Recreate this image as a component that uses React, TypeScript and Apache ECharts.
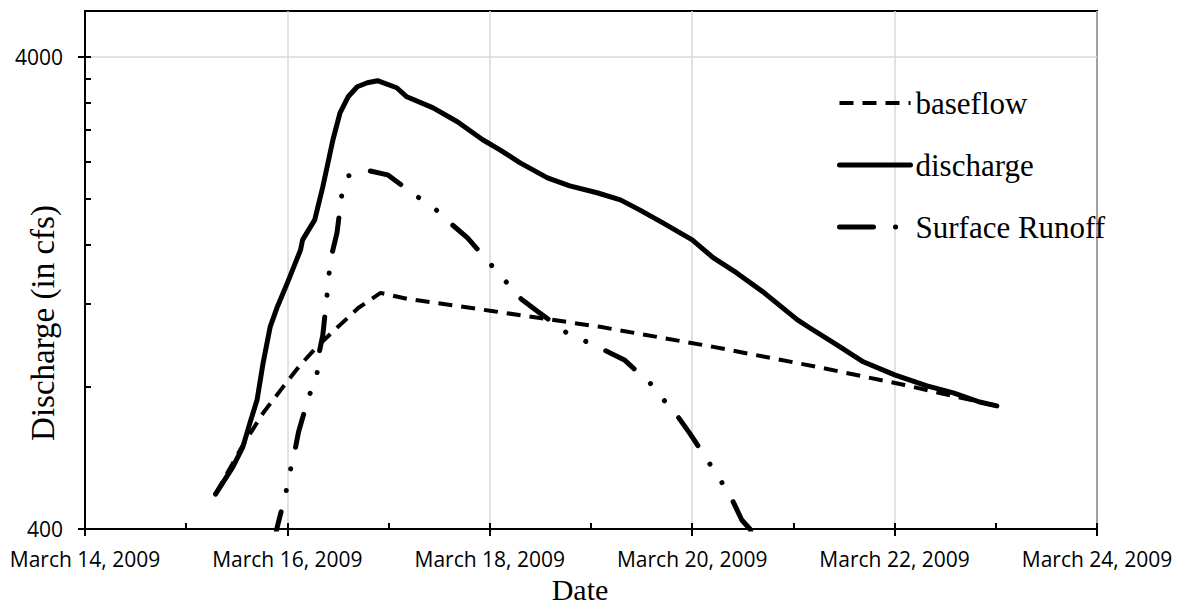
import React, { useEffect, useRef } from 'react';
import * as echarts from 'echarts';

// X in days of March 2009, Y in cfs
const xLabelDays = [14, 16, 18, 20, 22, 24];
const yLabelValues = [400, 4000];
const yMinorTickValues = [400, 800, 1200, 1600, 2000, 2400, 2800, 3200, 3600, 4000];

const seriesNames = ['baseflow', 'discharge', 'Surface Runoff'];

const baseflowDays = [15.29, 15.55, 15.76, 15.95, 16.11, 16.29, 16.49, 16.7, 16.92, 17.19, 18.02, 19.09, 20.21, 21.29, 22.1, 23.01];
const baseflowValues = [474, 597, 704, 796, 881, 972, 1067, 1175, 1265, 1228, 1158, 1072, 972, 877, 807, 729];

const dischargeDays = [15.29, 15.46, 15.56, 15.63, 15.7, 15.76, 15.83, 15.9, 16.0, 16.13, 16.15, 16.27, 16.35, 16.45, 16.52, 16.6, 16.69, 16.79, 16.89, 17.08, 17.18, 17.44, 17.68, 17.93, 18.1, 18.3, 18.57, 18.79, 19.06, 19.29, 19.48, 19.71, 20.0, 20.21, 20.44, 20.7, 21.04, 21.16, 21.43, 21.69, 22.0, 22.32, 22.58, 22.84, 23.01];
const dischargeValues = [474, 541, 597, 671, 750, 899, 1072, 1181, 1328, 1560, 1638, 1806, 2122, 2669, 3044, 3291, 3456, 3524, 3559, 3439, 3291, 3118, 2914, 2669, 2541, 2385, 2216, 2132, 2061, 1991, 1896, 1780, 1638, 1500, 1394, 1271, 1109, 1067, 982, 904, 848, 804, 777, 743, 729];

const runoffDays = [15.86, 15.9, 15.98, 16.02, 16.07, 16.11, 16.21, 16.29, 16.31, 16.35, 16.39, 16.41, 16.44, 16.49, 16.54, 16.6, 16.81, 16.99, 17.3, 17.47, 17.63, 17.78, 18.03, 18.17, 18.31, 18.48, 18.76, 18.96, 19.15, 19.33, 19.59, 19.72, 19.86, 19.98, 20.18, 20.29, 20.4, 20.49, 20.57, 20.62];
const runoffValues = [370, 404, 472, 523, 580, 642, 762, 840, 935, 1030, 1240, 1381, 1530, 1695, 2061, 2238, 2294, 2249, 2011, 1896, 1762, 1654, 1436, 1328, 1228, 1153, 1041, 996, 953, 912, 812, 750, 691, 636, 547, 503, 459, 418, 400, 379];

const SANS = '"Open Sans", "Noto Sans", sans-serif';
const SERIF = '"Liberation Serif", "DejaVu Serif", serif';

function zip(d: number[], v: number[]) {
  return d.map((x, i) => [x, v[i]]);
}

export default function App() {
  const ref = useRef<HTMLDivElement>(null);
  useEffect(() => {
    if (!ref.current) return;
    const chart = echarts.init(ref.current, null, { renderer: 'svg' });
    const axisLineStyle = { color: '#000', width: 2 };
    chart.setOption({
      animation: false,
      backgroundColor: '#fff',
      grid: { left: 85, right: 81, top: 11, bottom: 77, show: true, borderColor: '#000', borderWidth: 2, backgroundColor: 'transparent' },
      legend: {
        orient: 'vertical',
        left: 837,
        top: 87.5,
        padding: 0,
        itemWidth: 71,
        itemHeight: 2,
        itemGap: 31,
        data: seriesNames,
        textStyle: { fontFamily: SERIF, fontSize: 31, lineHeight: 31, color: '#000' },
        itemStyle: { opacity: 0 },
        lineStyle: { width: 'inherit' },
      },
      xAxis: [
        {
          type: 'value',
          min: xLabelDays[0],
          max: xLabelDays[xLabelDays.length - 1],
          interval: 2,
          position: 'bottom',
          axisLine: { show: true, onZero: false, lineStyle: axisLineStyle },
          axisTick: { show: true, length: 7, lineStyle: axisLineStyle },
          axisLabel: {
            margin: 19,
            fontFamily: SANS,
            fontSize: 21,
            color: '#000',
            formatter: (v: number) => `March ${v}, 2009`,
          },
          splitLine: { show: true, lineStyle: { color: '#d9d9d9', width: 1.5 } },
        },
        {
          type: 'value',
          min: xLabelDays[0],
          max: xLabelDays[xLabelDays.length - 1],
          interval: 1,
          position: 'bottom',
          axisLine: { show: false, onZero: false },
          axisTick: { show: true, inside: true, length: 6, lineStyle: axisLineStyle },
          axisLabel: { show: false },
          splitLine: { show: false },
        },
      ],
      yAxis: [
        {
          type: 'log',
          logBase: 10,
          min: 400,
          max: 5000,
          position: 'left',
          axisLine: { show: true, onZero: false, lineStyle: axisLineStyle },
          axisTick: { show: true, length: 7, customValues: yLabelValues, lineStyle: axisLineStyle },
          axisLabel: {
            customValues: yLabelValues,
            margin: 22,
            fontFamily: SANS,
            fontSize: 21,
            color: '#000',
            formatter: (v: number) => String(Math.round(v)),
          },
          splitLine: { show: true, lineStyle: { color: '#d9d9d9', width: 1.5 } },
        },
        {
          type: 'log',
          logBase: 10,
          min: 400,
          max: 5000,
          position: 'left',
          axisLine: { show: false, onZero: false },
          axisTick: { show: true, inside: true, length: 6, customValues: yMinorTickValues, lineStyle: axisLineStyle },
          axisLabel: { show: false },
          splitLine: { show: false },
        },
      ],
      graphic: [
        {
          type: 'text',
          x: 43,
          y: 323,
          rotation: Math.PI / 2,
          style: { text: 'Discharge (in cfs)', fontFamily: SERIF, fontSize: 33, fill: '#000', align: 'center', verticalAlign: 'middle' },
        },
        {
          type: 'text',
          x: 580,
          y: 589,
          style: { text: 'Date', fontFamily: SERIF, fontSize: 30, fill: '#000', align: 'center', verticalAlign: 'middle' },
        },
      ],
      series: [
        {
          name: seriesNames[0],
          type: 'line',
          xAxisIndex: 0,
          yAxisIndex: 0,
          symbol: 'none',
          data: zip(baseflowDays, baseflowValues),
          lineStyle: { color: '#000', width: 4, type: [14, 9] },
          itemStyle: { color: '#000' },
          z: 3,
        },
        {
          name: seriesNames[1],
          type: 'line',
          xAxisIndex: 0,
          yAxisIndex: 0,
          symbol: 'none',
          data: zip(dischargeDays, dischargeValues),
          lineStyle: { color: '#000', width: 5, cap: 'round', join: 'round' },
          itemStyle: { color: '#000' },
          z: 3,
        },
        {
          name: seriesNames[2],
          type: 'line',
          xAxisIndex: 0,
          yAxisIndex: 0,
          symbol: 'none',
          data: zip(runoffDays, runoffValues),
          lineStyle: { color: '#000', width: 5, type: [34, 22, 0.1, 22, 0.1, 22], cap: 'round', join: 'round' },
          itemStyle: { color: '#000' },
          z: 3,
        },
      ],
    });
    return () => chart.dispose();
  }, []);
  return <div ref={ref} style={{ position: 'fixed', left: 0, top: 0, width: 1178, height: 606 }} />;
}
